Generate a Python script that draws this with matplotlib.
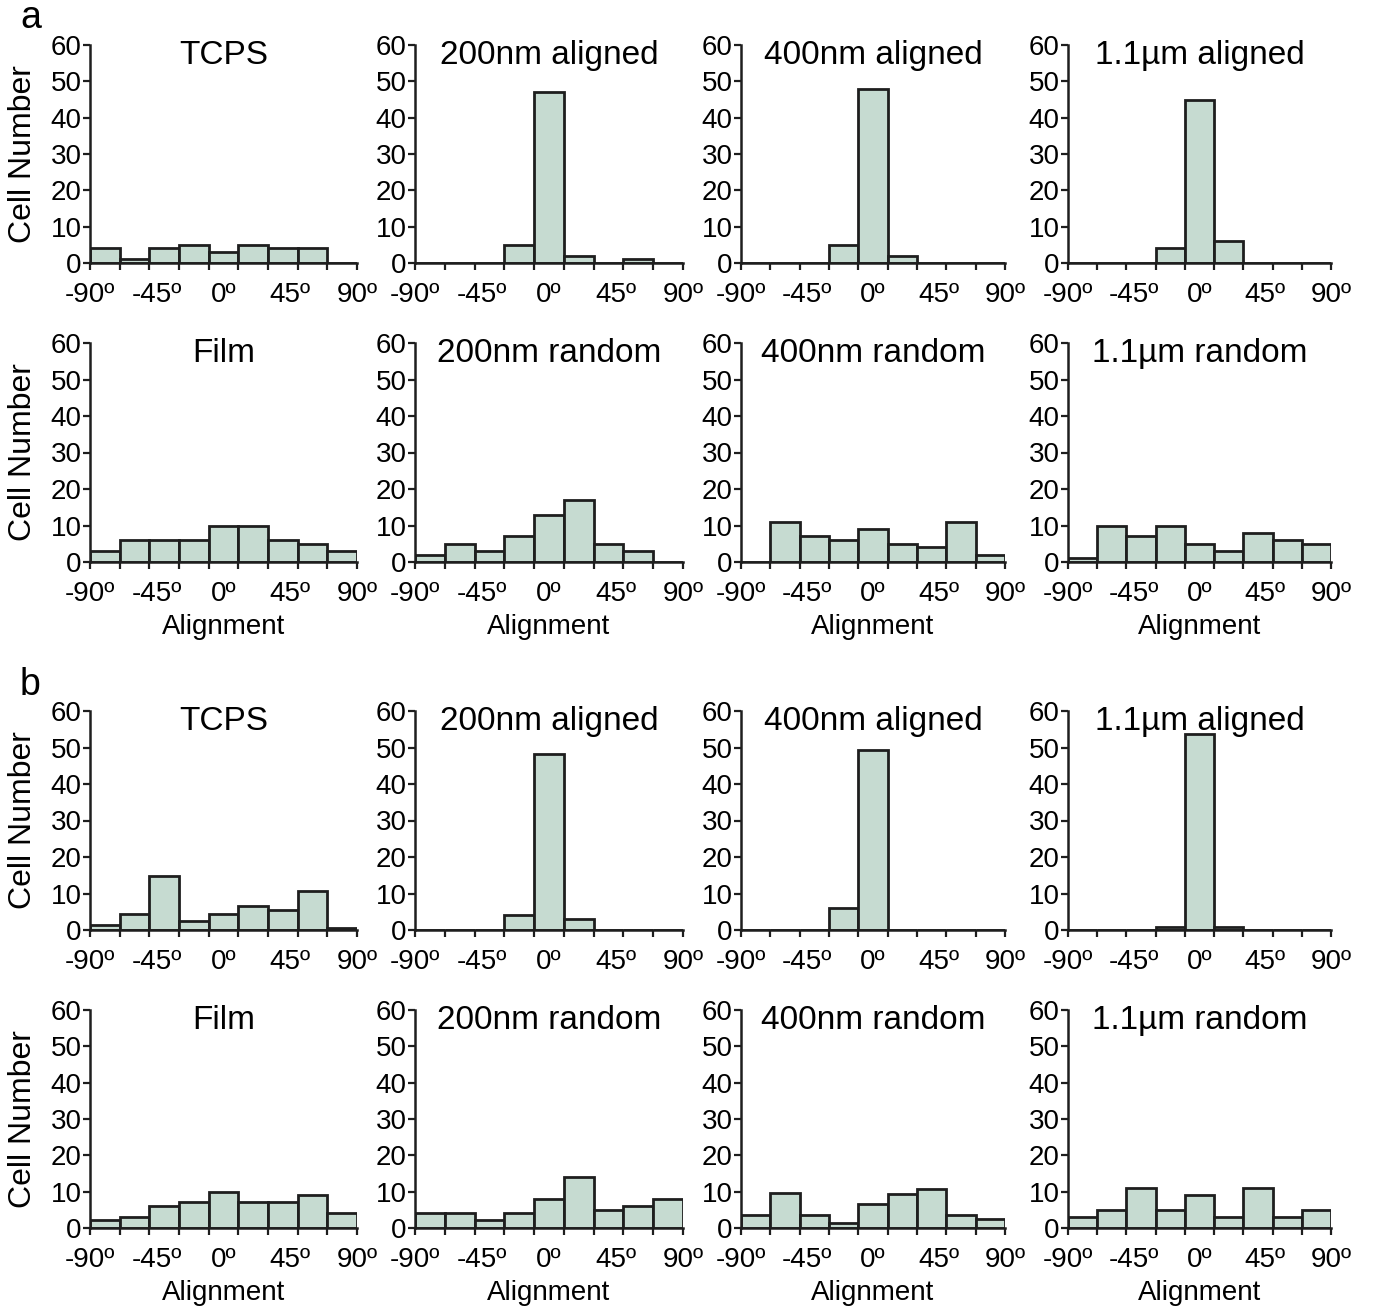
import matplotlib
matplotlib.use("Agg")
import matplotlib.pyplot as plt
import numpy as np

plt.rcParams['font.family'] = ['Liberation Sans', 'DejaVu Sans']

# Histogram bins: 20-degree bins from -90 to 90
bin_edges = [-90, -70, -50, -30, -10, 10, 30, 50, 70, 90]
tick_labels = ['-90º', '-45º', '0º', '45º', '90º']
tick_label_pos = [-90, -45, 0, 45, 90]
y_ticks = [0, 10, 20, 30, 40, 50, 60]

titles_aligned = ['TCPS', '200nm aligned', '400nm aligned', '1.1µm aligned']
titles_random = ['Film', '200nm random', '400nm random', '1.1µm random']

# Panel a: cell counts per alignment bin
a_tcps = [4, 1, 4, 5, 3, 5, 4, 4, 0]
a_200_aligned = [0, 0, 0, 5, 47, 2, 0, 1, 0]
a_400_aligned = [0, 0, 0, 5, 48, 2, 0, 0, 0]
a_1100_aligned = [0, 0, 0, 4, 45, 6, 0, 0, 0]
a_film = [3, 6, 6, 6, 10, 10, 6, 5, 3]
a_200_random = [2, 5, 3, 7, 13, 17, 5, 3, 0]
a_400_random = [0, 11, 7, 6, 9, 5, 4, 11, 2]
a_1100_random = [1, 10, 7, 10, 5, 3, 8, 6, 5]

# Panel b: cell counts per alignment bin
b_tcps = [1.4, 4.4, 14.7, 2.6, 4.4, 6.7, 5.6, 10.7, 0.5]
b_200_aligned = [0, 0, 0, 4.1, 48.1, 3.1, 0, 0, 0]
b_400_aligned = [0, 0, 0, 5.9, 49.2, 0, 0, 0, 0]
b_1100_aligned = [0, 0, 0, 0.7, 53.8, 0.7, 0, 0, 0]
b_film = [2.1, 3.1, 6.0, 7.1, 10.0, 7.1, 7.1, 9.0, 4.1]
b_200_random = [4.1, 4.1, 2.1, 4.1, 8.1, 13.9, 4.9, 6.0, 8.1]
b_400_random = [3.6, 9.5, 3.6, 1.5, 6.5, 9.4, 10.6, 3.6, 2.6]
b_1100_random = [3, 5, 11, 5, 9, 3, 11, 3, 5]

rows = [
    (titles_aligned, [a_tcps, a_200_aligned, a_400_aligned, a_1100_aligned], False),
    (titles_random, [a_film, a_200_random, a_400_random, a_1100_random], True),
    (titles_aligned, [b_tcps, b_200_aligned, b_400_aligned, b_1100_aligned], False),
    (titles_random, [b_film, b_200_random, b_400_random, b_1100_random], True),
]

W, H = 1374, 1309
fig = plt.figure(figsize=(W / 100, H / 100), dpi=100)

col_px = [(90, 357), (415, 683), (741, 1005), (1068, 1331)]
row_px = [(45, 263), (343, 562), (711, 930), (1010, 1228)]

bar_color = '#c6dbd1'
edge_color = '#1e1e1e'
centers = [(bin_edges[i] + bin_edges[i + 1]) / 2 for i in range(len(bin_edges) - 1)]
width = bin_edges[1] - bin_edges[0]

for r, (titles, series, show_xlabel) in enumerate(rows):
    top, bottom = row_px[r]
    for c in range(4):
        left, right = col_px[c]
        ax = fig.add_axes([left / W, 1 - bottom / H, (right - left) / W, (bottom - top) / H])
        vals = series[c]
        ax.bar(centers, vals, width=width, color=bar_color, edgecolor=edge_color,
               linewidth=2.0, zorder=2)
        ax.set_xlim(-90, 90)
        ax.set_ylim(0, 60)
        for s in ['top', 'right']:
            ax.spines[s].set_visible(False)
        for s in ['left', 'bottom']:
            ax.spines[s].set_linewidth(1.8)
            ax.spines[s].set_color(edge_color)
            ax.spines[s].set_zorder(3)
        ax.set_yticks(y_ticks)
        ax.set_yticklabels([str(v) for v in y_ticks])
        # labelled positions as major ticks, bin edges as minor tick marks
        ax.xaxis.remove_overlapping_locs = False
        ax.set_xticks(tick_label_pos)
        ax.set_xticklabels(tick_labels)
        ax.set_xticks(bin_edges, minor=True)
        ax.tick_params(axis='x', which='minor', length=5, width=1.6, color=edge_color,
                       direction='out')
        ax.tick_params(axis='x', which='major', length=0, pad=14, labelsize=20)
        ax.tick_params(axis='y', length=5, width=1.6, color=edge_color, direction='out',
                       pad=1, labelsize=20)
        ax.patch.set_alpha(0)
        ax.text(0.5, 0.915, titles[c], transform=ax.transAxes, ha='center',
                va='baseline', fontsize=24)
        if c == 0:
            ax.set_ylabel('Cell Number', fontsize=23)
            ax.yaxis.set_label_coords(-52 / (right - left), 0.5)
        if show_xlabel:
            ax.set_xlabel('Alignment', fontsize=20, labelpad=5)

fig.text(20 / W, 1 - 18 / H, 'a', fontsize=27, ha='left', va='center')
fig.text(20 / W, 1 - 685 / H, 'b', fontsize=27, ha='left', va='center')

fig.savefig('out.png', dpi=100, facecolor='white')
